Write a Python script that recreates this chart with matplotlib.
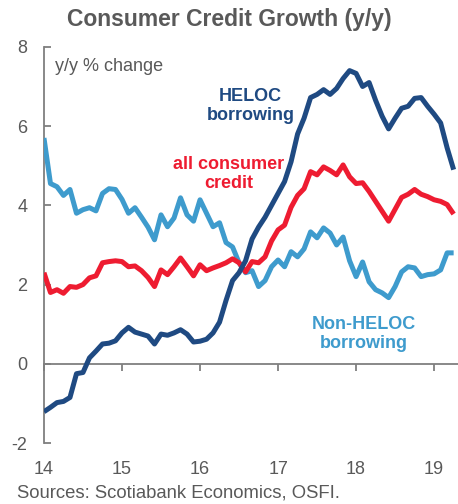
import numpy as np
import matplotlib
matplotlib.use("Agg")
import matplotlib.pyplot as plt
from matplotlib.transforms import blended_transform_factory

plt.rcParams['font.family'] = ['Liberation Sans', 'DejaVu Sans']

# Monthly y/y % change, Jan 2014 onward
start_year = 14.0
heloc = [-1.21, -1.10, -0.98, -0.95, -0.85, -0.25, -0.22, 0.15, 0.32, 0.50,
         0.52, 0.58, 0.78, 0.92, 0.80, 0.75, 0.70, 0.50, 0.75, 0.72,
         0.78, 0.86, 0.75, 0.55, 0.57, 0.62, 0.78, 1.05, 1.60, 2.10,
         2.30, 2.60, 3.15, 3.45, 3.70, 4.00, 4.30, 4.60, 5.10, 5.80,
         6.20, 6.72, 6.80, 6.92, 6.80, 6.95, 7.20, 7.40, 7.33, 7.00,
         7.10, 6.65, 6.25, 5.93, 6.20, 6.45, 6.50, 6.70, 6.72, 6.50,
         6.30, 6.08, 5.45, 4.90]
all_consumer = [2.30, 1.80, 1.87, 1.78, 1.95, 1.93, 2.00, 2.17, 2.22, 2.55,
                2.58, 2.60, 2.58, 2.45, 2.47, 2.35, 2.18, 1.95, 2.37, 2.25,
                2.45, 2.67, 2.45, 2.22, 2.50, 2.35, 2.42, 2.48, 2.55, 2.65,
                2.55, 2.32, 2.58, 2.55, 2.70, 3.10, 3.38, 3.50, 3.95, 4.25,
                4.42, 4.85, 4.77, 4.97, 4.88, 4.77, 5.02, 4.72, 4.55, 4.57,
                4.35, 4.10, 3.85, 3.60, 3.90, 4.20, 4.28, 4.40, 4.28, 4.22,
                4.14, 4.10, 4.02, 3.78]
non_heloc = [5.70, 4.55, 4.47, 4.25, 4.40, 3.80, 3.89, 3.94, 3.86, 4.30,
             4.42, 4.40, 4.15, 3.80, 3.94, 3.70, 3.45, 3.13, 3.76, 3.46,
             3.68, 4.19, 3.76, 3.60, 4.14, 3.80, 3.46, 3.56, 3.06, 2.95,
             2.55, 2.30, 2.35, 1.95, 2.10, 2.45, 2.62, 2.45, 2.83, 2.70,
             2.90, 3.33, 3.18, 3.43, 3.30, 3.00, 3.20, 2.60, 2.20, 2.57,
             2.07, 1.87, 1.79, 1.67, 1.95, 2.32, 2.45, 2.42, 2.20, 2.25,
             2.27, 2.37, 2.80, 2.80]

x_ticks = [14, 15, 16, 17, 18, 19]
x_tick_labels = ["14", "15", "16", "17", "18", "19"]
y_ticks = [-2, 0, 2, 4, 6, 8]

x = start_year + np.arange(len(heloc)) / 12.0

c_heloc = "#1F4A82"
c_all = "#EE1C31"
c_non = "#3E9BCD"
c_text = "#595959"
c_axis = "#7F7F7F"

fig = plt.figure(figsize=(4.58, 5.04), dpi=100)
ax = fig.add_axes([0.096, 0.121, 0.903, 0.786])

lw = 3.6
ax.plot(x, non_heloc, color=c_non, lw=lw, solid_joinstyle='round', solid_capstyle='butt', zorder=3)
ax.plot(x, all_consumer, color=c_all, lw=lw, solid_joinstyle='round', solid_capstyle='butt', zorder=4)
ax.plot(x, heloc, color=c_heloc, lw=lw, solid_joinstyle='round', solid_capstyle='butt', zorder=5)

ax.set_xlim(14, 19.3)
ax.set_ylim(-2, 8)

for s in ['top', 'right']:
    ax.spines[s].set_visible(False)
ax.spines['left'].set_color(c_axis)
ax.spines['left'].set_linewidth(1.3)
ax.spines['bottom'].set_position(('data', 0))
ax.spines['bottom'].set_color(c_axis)
ax.spines['bottom'].set_linewidth(1.3)

ax.set_yticks(y_ticks)
ax.set_yticklabels([str(v) for v in y_ticks])
ax.tick_params(axis='y', direction='in', length=5, width=1.3, color=c_axis,
               labelsize=13, labelcolor=c_text, pad=12)

ax.set_xticks(x_ticks)
ax.tick_params(axis='x', direction='out', length=5, width=1.3, color=c_axis,
               labelbottom=False)

trans = blended_transform_factory(ax.transData, ax.transAxes)
for xv, lab in zip(x_ticks, x_tick_labels):
    ax.text(xv, -0.066, lab, transform=trans, ha='center', va='center',
            fontsize=13, color=c_text)

ax.text(0.027, 0.95, "y/y % change", transform=ax.transAxes, ha='left',
        va='center', fontsize=13, color=c_text)

ax.text(16.65, 6.5, "HELOC\nborrowing", ha='center', va='center',
        fontsize=13, fontweight='bold', color=c_heloc, linespacing=1.15)
ax.text(16.37, 4.8, "all consumer\ncredit", ha='center', va='center',
        fontsize=13, fontweight='bold', color=c_all, linespacing=1.15)
ax.text(18.1, 0.75, "Non-HELOC\nborrowing", ha='center', va='center',
        fontsize=13, fontweight='bold', color=c_non, linespacing=1.15)

fig.text(0.5, 0.962, "Consumer Credit Growth (y/y)", ha='center', va='center',
         fontsize=16.5, fontweight='bold', color=c_text)
fig.text(0.037, 0.022, "Sources: Scotiabank Economics, OSFI.", ha='left',
         va='center', fontsize=13.3, color=c_text)

fig.savefig("out.png", dpi=100)
